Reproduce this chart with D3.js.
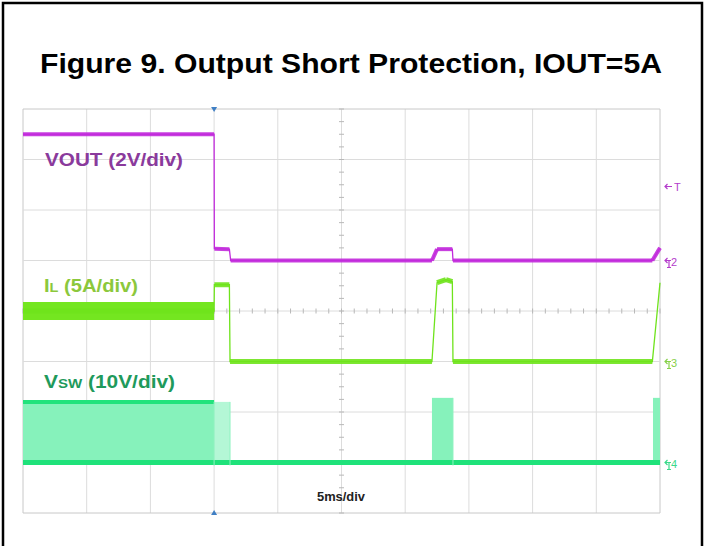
<!DOCTYPE html>
<html>
<head>
<meta charset="utf-8">
<script src="https://cdn.jsdelivr.net/npm/d3@7"></script>
<style>
  body { margin: 0; background: #fff; }
  svg { display: block; }
  text { font-family: "Liberation Sans", Arial, sans-serif; font-weight: bold; }
</style>
</head>
<body>
<svg></svg>
<script>
// time axis: 5 ms/div, 10 divisions
const timeTicks = d3.range(0, 55, 5);
const voltTicks = d3.range(0, 9, 1); // 8 vertical divisions

// VOUT (2V/div), values in V
const voutT = [0, 15, 15.02, 16.2, 16.3, 32.1, 32.5, 33.7, 33.75, 49.4, 50];
const voutV = [5.0, 5.0, 0.47, 0.45, 0.0, 0.0, 0.45, 0.45, 0.0, 0.0, 0.5];

// IL (5A/div), values in A
const ilT = [0, 15, 15.02, 16.2, 16.25, 32.1, 32.5, 33.2, 33.7, 33.75, 49.4, 50];
const ilA = [5.0, 5.0, 7.6, 7.6, 0, 0, 7.8, 8.1, 7.9, 0, 0, 7.8];
const ilRippleEnd = 15;   // switching ripple lasts until the short
const ilRipple = 1.8;     // A peak to peak

// VSW (10V/div), switching bursts
const swStart = [0, 15, 32.1, 49.45];
const swEnd = [15, 16.25, 33.75, 50];
const swHigh = [12, 12, 12.8, 12.8];
const swLow = 0;

const channels = {
  vout: { offset: 5, perDiv: 2 },
  il: { offset: 3, perDiv: 5 },
  sw: { offset: 1, perDiv: 10 },
};

const width = 707;
const height = 546;
const svg = d3.select("svg").attr("width", width).attr("height", height);

const x = d3.scaleLinear().domain([0, 50]).range([23, 660]);
const y = d3.scaleLinear().domain([0, 8]).range([513, 109]);
const yCh = (ch, v) => y(ch.offset + v / ch.perDiv);

// outer frame (open at the bottom)
svg.append("path")
  .attr("d", `M3,${height} V3 H702 V${height}`)
  .attr("fill", "none")
  .attr("stroke", "#000")
  .attr("stroke-width", 2.5);

svg.append("text")
  .attr("x", 351)
  .attr("y", 73)
  .attr("text-anchor", "middle")
  .attr("textLength", 622)
  .attr("lengthAdjust", "spacingAndGlyphs")
  .style("font-size", "27px")
  .attr("fill", "#000")
  .text("Figure 9. Output Short Protection, IOUT=5A");

// graticule
const grid = svg.append("g");
grid.selectAll(".vx")
  .data(timeTicks)
  .enter()
  .append("line")
  .attr("x1", d => x(d)).attr("x2", d => x(d))
  .attr("y1", y(0)).attr("y2", y(8))
  .attr("stroke", (d, i) => (i === 0 || i === 10 ? "#c8c8c8" : "#dcdcdc"))
  .attr("stroke-width", 1);
grid.selectAll(".hy")
  .data(voltTicks)
  .enter()
  .append("line")
  .attr("x1", x(0)).attr("x2", x(50))
  .attr("y1", d => y(d)).attr("y2", d => y(d))
  .attr("stroke", (d, i) => (i === 0 || i === 8 ? "#c8c8c8" : "#dcdcdc"))
  .attr("stroke-width", 1);

// minor ticks on the centre lines
grid.selectAll(".mx")
  .data(d3.range(0, 50.01, 1))
  .enter()
  .append("line")
  .attr("x1", d => x(d)).attr("x2", d => x(d))
  .attr("y1", y(4) - 2.5).attr("y2", y(4) + 2.5)
  .attr("stroke", "#b8b8b8");
grid.selectAll(".my")
  .data(d3.range(0, 8.01, 0.25))
  .enter()
  .append("line")
  .attr("x1", x(25) - 2.5).attr("x2", x(25) + 2.5)
  .attr("y1", d => y(d)).attr("y2", d => y(d))
  .attr("stroke", "#b8b8b8");

// trigger position markers
const trig = x(15);
svg.append("path")
  .attr("d", `M${trig - 3},${y(8) - 2} L${trig + 3},${y(8) - 2} L${trig},${y(8) + 3} Z`)
  .attr("fill", "#3f7fc4");
svg.append("path")
  .attr("d", `M${trig - 3},${y(0) + 2} L${trig + 3},${y(0) + 2} L${trig},${y(0) - 3} Z`)
  .attr("fill", "#3f7fc4");

// trace helper: thin line everywhere, thick band where the trace is flat or slow
function drawTrace(ts, vs, ch, color, thick) {
  const pts = ts.map((t, i) => [x(t), yCh(ch, vs[i])]);
  const g = svg.append("g");
  g.append("path")
    .attr("d", d3.line()(pts))
    .attr("fill", "none")
    .attr("stroke", color)
    .attr("stroke-width", 1.3);
  for (let i = 0; i < pts.length - 1; i++) {
    const dx = pts[i + 1][0] - pts[i][0];
    const dy = Math.abs(pts[i + 1][1] - pts[i][1]);
    if (dx > 3 && dy / dx < 3) {
      g.append("line")
        .attr("x1", pts[i][0]).attr("y1", pts[i][1])
        .attr("x2", pts[i + 1][0]).attr("y2", pts[i + 1][1])
        .attr("stroke", color)
        .attr("stroke-width", thick)
        .attr("stroke-opacity", 0.9);
    }
  }
  return g;
}

// VSW bursts
const sw = channels.sw;
swStart.forEach((s, i) => {
  svg.append("rect")
    .attr("x", x(s))
    .attr("y", yCh(sw, swHigh[i]))
    .attr("width", x(swEnd[i]) - x(s))
    .attr("height", yCh(sw, swLow) - yCh(sw, swHigh[i]))
    .attr("fill", i === 1 ? "#b4f7d6" : "#86f2bb");
});
svg.append("line")
  .attr("x1", x(swStart[0])).attr("x2", x(swEnd[0]))
  .attr("y1", yCh(sw, swHigh[0])).attr("y2", yCh(sw, swHigh[0]))
  .attr("stroke", "#22e37c").attr("stroke-width", 4);
svg.append("line")
  .attr("x1", x(0)).attr("x2", x(50))
  .attr("y1", yCh(sw, swLow)).attr("y2", yCh(sw, swLow))
  .attr("stroke", "#1fe27a").attr("stroke-width", 5);
swEnd.forEach((e, i) => {
  if (i === 3) return;
  svg.append("line")
    .attr("x1", x(e)).attr("x2", x(e))
    .attr("y1", yCh(sw, swHigh[i])).attr("y2", yCh(sw, swLow) + 3)
    .attr("stroke", "#8ff2c0").attr("stroke-width", 1);
});

// IL
const il = channels.il;
svg.append("path")
  .datum(ilT.filter(t => t <= ilRippleEnd))
  .attr("d", d3.area()
    .x(d => x(d))
    .y0(d => yCh(il, ilA[ilT.indexOf(d)] - ilRipple / 2))
    .y1(d => yCh(il, ilA[ilT.indexOf(d)] + ilRipple / 2)))
  .attr("fill", "#74e620");
drawTrace(ilT, ilA, il, "#6fe31c", 5);

// VOUT
drawTrace(voutT, voutV, channels.vout, "#c22bdc", 4);

// channel labels
svg.append("text")
  .attr("x", 45).attr("y", 166)
  .attr("textLength", 138).attr("lengthAdjust", "spacingAndGlyphs")
  .style("font-size", "18px").attr("fill", "#8a3a9c")
  .text("VOUT (2V/div)");

const l2 = svg.append("text")
  .attr("x", 44).attr("y", 292)
  .attr("textLength", 94).attr("lengthAdjust", "spacingAndGlyphs")
  .style("font-size", "18px").attr("fill", "#8cc83c");
l2.append("tspan").text("I");
l2.append("tspan").style("font-size", "13px").text("L");
l2.append("tspan").text(" (5A/div)");

const l3 = svg.append("text")
  .attr("x", 44).attr("y", 388)
  .attr("textLength", 131).attr("lengthAdjust", "spacingAndGlyphs")
  .style("font-size", "18px").attr("fill", "#1f9a5c");
l3.append("tspan").text("V");
l3.append("tspan").style("font-size", "13px").text("SW");
l3.append("tspan").text(" (10V/div)");

svg.append("text")
  .attr("x", 317).attr("y", 501)
  .attr("textLength", 48).attr("lengthAdjust", "spacingAndGlyphs")
  .style("font-size", "12px").attr("fill", "#222")
  .text("5ms/div");

// right-hand channel markers
function marker(yy, label, color) {
  const g = svg.append("g").attr("stroke", color).attr("fill", color);
  g.append("path")
    .attr("d", `M${x(50) + 11},${yy} H${x(50) + 5} M${x(50) + 7.5},${yy - 2.5} L${x(50) + 5},${yy} L${x(50) + 7.5},${yy + 2.5}`)
    .attr("fill", "none").attr("stroke-width", 1.2);
  g.append("path")
    .attr("d", `M${x(50) + 9},${yy} V${yy + 7} M${x(50) + 7},${yy + 7} H${x(50) + 11}`)
    .attr("fill", "none").attr("stroke-width", 1.2);
  g.append("text")
    .attr("x", x(50) + 11).attr("y", yy + 5)
    .attr("stroke", "none")
    .style("font-size", "11px").style("font-weight", "normal")
    .text(label);
}
marker(yCh(channels.vout, 0), "2", "#b43ccc");
marker(yCh(il, 0), "3", "#86d04a");
marker(yCh(sw, 0), "4", "#3ad98a");

const tm = svg.append("g").attr("fill", "#b43ccc").attr("stroke", "#b43ccc");
tm.append("path")
  .attr("d", `M${x(50) + 12},186.5 H${x(50) + 5} M${x(50) + 7.5},184 L${x(50) + 5},186.5 L${x(50) + 7.5},189`)
  .attr("fill", "none").attr("stroke-width", 1.2);
tm.append("text")
  .attr("x", x(50) + 14).attr("y", 190.5)
  .attr("stroke", "none")
  .style("font-size", "11px").style("font-weight", "normal")
  .text("T");
</script>
</body>
</html>
